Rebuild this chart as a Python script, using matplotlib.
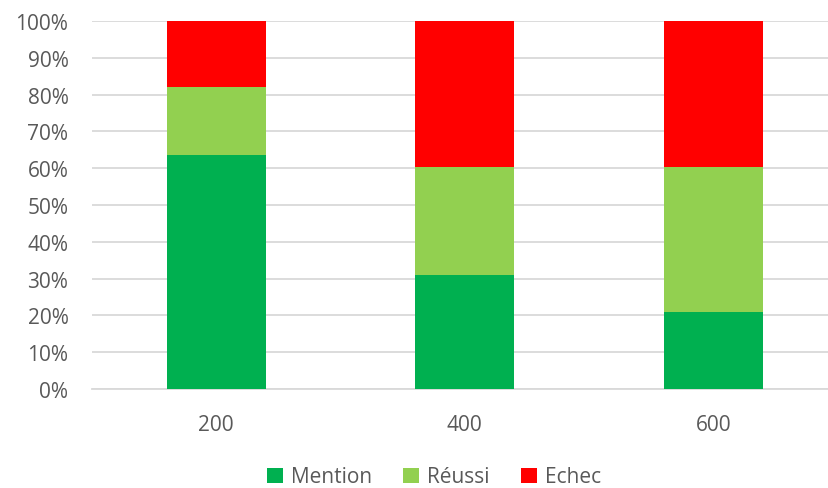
import numpy as np
import matplotlib.pyplot as plt
from matplotlib.ticker import PercentFormatter

categories = ['200', '400', '600']
mention = [63.6, 31.0, 20.9]
reussi = [18.6, 29.4, 39.5]
echec = [17.8, 39.6, 39.6]
series = ['Mention', 'Réussi', 'Echec']
colors = ['#00b050', '#92d050', '#ff0000']

plt.rcParams['font.family'] = ['Open Sans', 'DejaVu Sans']

fig = plt.figure(figsize=(8.29, 4.89), dpi=100)
ax = fig.add_axes([92 / 829, 1 - 390 / 489, 745.5 / 829, 368 / 489])

x = np.arange(len(categories))
bottom = np.zeros(len(categories))
for name, vals, c in zip(series, [mention, reussi, echec], colors):
    ax.bar(x, vals, width=0.4, bottom=bottom, color=c, label=name, zorder=3)
    bottom += np.array(vals)

ax.set_xlim(-0.5, 2.5)
ax.set_ylim(0, 100)
ax.set_yticks(np.arange(0, 101, 10))
ax.yaxis.set_major_formatter(PercentFormatter(decimals=0))
ax.set_xticks(x)
ax.set_xticklabels(categories)
ax.grid(axis='y', color='#d9d9d9', linewidth=1.3, zorder=0)
for s in ['top', 'right', 'left']:
    ax.spines[s].set_visible(False)
ax.spines['bottom'].set_color('#d9d9d9')
ax.spines['bottom'].set_linewidth(1.3)
ax.tick_params(axis='both', length=0, colors='#595959', labelsize=15)
ax.tick_params(axis='x', pad=18)
ax.tick_params(axis='y', pad=17)

fig.legend(loc='center', bbox_to_anchor=(434 / 829, 1 - 478 / 489), ncol=3,
           frameon=False, fontsize=15, labelcolor='#595959',
           handlelength=0.75, handleheight=0.75, handletextpad=0.4, columnspacing=1.5)

fig.savefig('out.png', dpi=100)
